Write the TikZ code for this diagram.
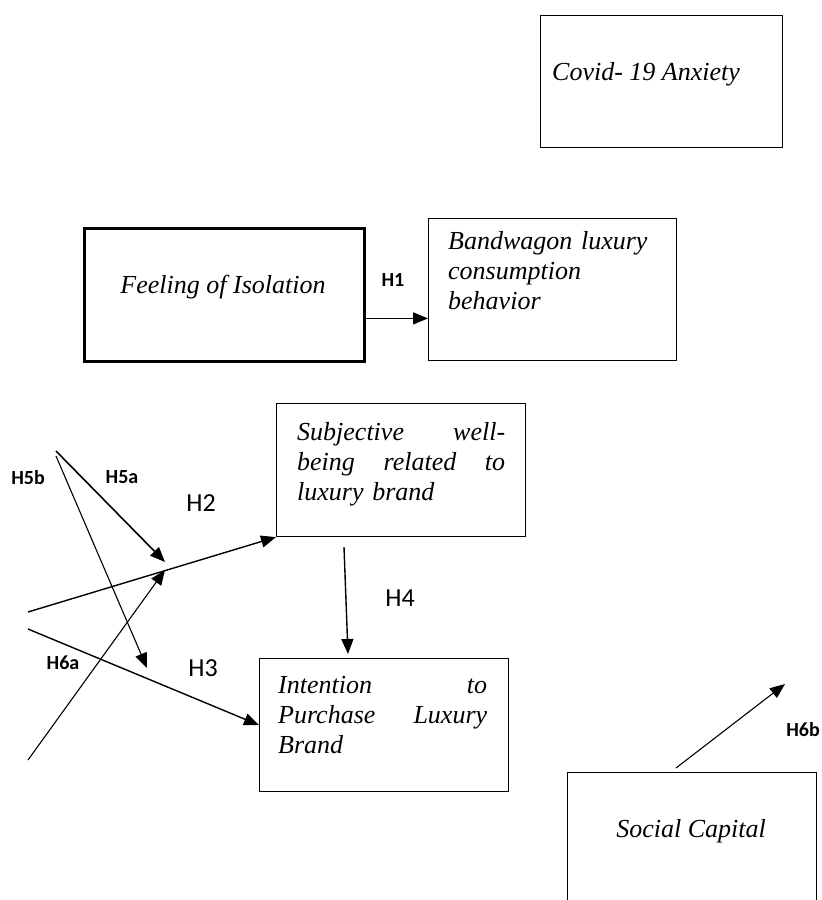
\documentclass[tikz,border=0pt]{standalone}
\usepackage{fontspec}
\setmainfont{Liberation Serif}
\newfontfamily\labelfont{Carlito}
\usetikzlibrary{arrows.meta,positioning,calc}
\newcommand{\boxfont}{\fontsize{26}{30}\selectfont\itshape}
\tikzset{arr/.style={-{Triangle[length=15pt,width=12pt]},line width=1.4pt},
  box/.style={draw,line width=1.1pt,inner sep=0pt,anchor=north west},
  boxtext/.style={anchor=base west,align=left,inner sep=0pt,font=\boxfont},
  hyp/.style={font=\labelfont\fontsize{26}{30}\selectfont,inner sep=0pt},
  hypb/.style={font=\labelfont\bfseries\fontsize{20}{24}\selectfont,inner sep=0pt}}

\begin{document}
\begin{tikzpicture}[x=1pt,y=-1pt]
\useasboundingbox (0,0) rectangle (822,900);
\clip (0,0) rectangle (822,900);
% boxes
\node[box,minimum width=242pt,minimum height=132pt] (covid) at (540,15) {};
\node[box,line width=2.8pt,minimum width=280pt,minimum height=133pt] (feel) at (83,227) {};
\node[box,minimum width=248pt,minimum height=142pt] (band) at (428,218) {};
\node[box,minimum width=249pt,minimum height=133pt] (subj) at (276,403) {};
\node[box,minimum width=249pt,minimum height=133pt] (intent) at (259,658) {};
\node[box,minimum width=249pt,minimum height=160pt] (soc) at (567,772) {};
% box texts
\node[boxtext] (covidtxt) at (552,80) {Covid- 19 Anxiety};
\node[boxtext,anchor=base] (feeltxt) at (223,293) {Feeling of Isolation};
\node[boxtext,text width=210pt] (bandtxt) at (448,249) {Bandwagon luxury\\consumption\\behavior};
\node[boxtext,text width=208pt] (subjtxt) at (297,440) {Subjective\hfill well-\\being\hfill related\hfill to\\luxury brand};
\node[boxtext,text width=209pt] (intenttxt) at (278,693) {Intention\hfill to\\Purchase\hfill Luxury\\Brand};
\node[boxtext,anchor=base] (soctxt) at (691,837) {Social Capital};
% free ends
\coordinate (h1) at ([yshift=-23.5pt]feel.east);
\coordinate (h2s) at (28,612);
\coordinate (h3s) at (28,629);
\coordinate (h5s) at (56,451);
\coordinate (h5e) at (165,562);
\coordinate (h5t) at (56,456);
\coordinate (h5f) at (147,668);
\coordinate (h6s) at (28,760);
\coordinate (h6e) at (165,570);
\coordinate (h6f) at (785,684);
% arrows
\draw[arr] (h1) -- (h1 -| band.west);
\draw[arr] (h2s) -- (subj.south west);
\draw[arr] (h3s) -- (intent.west);
\draw[arr] ([xshift=68pt,yshift=-10pt]subj.south west) -- ([xshift=89pt,yshift=4pt]intent.north west);
\draw[arr,line width=1.6pt] (h5s) -- (h5e);
\draw[arr,line width=1.1pt] (h5t) -- (h5f);
\draw[arr,line width=1.1pt] (h6s) -- (h6e);
\draw[arr,line width=1.1pt] ([xshift=109pt,yshift=4pt]soc.north west) -- (h6f);
% labels
\node[hypb] (lh1) at (393,280) {H1};
\node[hyp] (lh2) at (201,503) {H2};
\node[hyp] (lh3) at (203,668) {H3};
\node[hyp] (lh4) at (400,598) {H4};
\node[hypb] (lh5a) at (122,477) {H5a};
\node[hypb] (lh5b) at (28,478) {H5b};
\node[hypb] (lh6a) at (63,663) {H6a};
\node[hypb] (lh6b) at (803,730) {H6b};
\end{tikzpicture}
\end{document}
